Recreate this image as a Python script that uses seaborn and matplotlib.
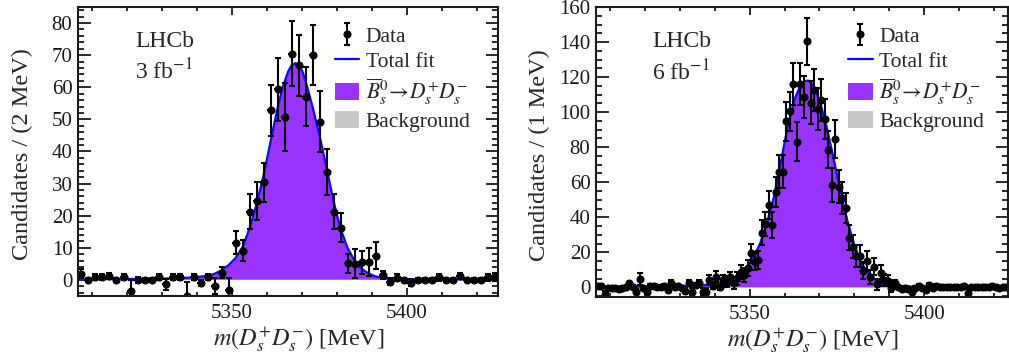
import numpy as np
import matplotlib
matplotlib.use("Agg")
import matplotlib.pyplot as plt
import seaborn as sns
from matplotlib.ticker import MultipleLocator
from matplotlib.patches import Patch
from matplotlib.lines import Line2D

sns.set_theme(style="ticks")
plt.rcParams['font.family'] = ['Liberation Serif', 'DejaVu Serif']
plt.rcParams['mathtext.fontset'] = 'stix'

# ---- 3 fb-1 sample, 2 MeV bins
mass_3fb = np.arange(5307, 5427, 2)
counts_3fb = [2, 0, 1, 1, 1.2, 0, 1, -3.3, 0, 0,
              0, 1, -1.4, 1, 1, -5, 1, -1, 1, -2,
              2.3, -3, 11.6, 9.1, 21.3, 24.6, 30.4, 52.8, 59.4, 50.7,
              70.5, 66.8, 57.1, 70.1, 49.3, 33.5, 21.3, 16.3, 5.2, 5,
              5.5, 5.6, 7.5, 1.6, -0.5, 0.7, 0, -0.8, 0, 0,
              0, 0.8, 0, 0, 1.2, 0, 0, 0, 0.8, 1]
errors_3fb = [1.5, 0.7, 1, 1, 1, 0.7, 1, 3.2, 1, 0.7,
              0.7, 1, 1.7, 1, 1, 4.5, 1, 1, 1, 2.5,
              1.8, 3.7, 3.5, 3.3, 5.5, 5.8, 6, 8, 9.8, 10.6,
              10, 9.6, 9.3, 9.3, 9.5, 7.2, 5.4, 4.5, 3, 4.5,
              3.5, 4.4, 4.2, 1.3, 1, 1, 0.7, 1, 0.7, 0.7,
              0.7, 1, 0.7, 0.7, 1, 0.7, 0.7, 0.7, 1, 1.2]
fit_x_3fb = [5306, 5320, 5330, 5336, 5340, 5343, 5345, 5347, 5349, 5351,
             5353, 5355, 5357, 5359, 5361, 5363, 5364.5, 5366, 5367, 5368,
             5369, 5370, 5371, 5373, 5375, 5377, 5379, 5381, 5383, 5385,
             5387, 5389, 5391, 5393, 5396, 5400, 5426]
fit_y_3fb = [0.2, 0.3, 0.4, 0.6, 0.9, 1.3, 1.9, 3.0, 4.6, 6.8,
             10.2, 16, 23.5, 32.5, 43, 53.5, 60, 64.8, 66.8, 67.5,
             67, 65.3, 62, 54, 45, 35, 24.5, 16, 10, 6,
             3.5, 2.0, 1.1, 0.6, 0.3, 0.2, 0.2]

# ---- 6 fb-1 sample, 1 MeV bins
mass_6fb = np.arange(5306.5, 5424, 1)
counts_6fb = [0.8, 0.8, -3.8, -0.6, -0.6, -0.6, -1.1, -0.6, 0, 2.3,
              0, -2.5, 4.6, -0.6, -2.5, 0.8, 0.8, 0, 0, 0.8,
              -1.5, 2.7, 0, 0.8, -0.6, -1.9, 2.7, -2.5, 1.3, 2.7,
              -2.5, -2.5, 4.2, 0.8, 6.1, 0, 4.2, 3.2, 5.7, 2.3,
              5.1, 8.5, 7, 11, 19.4, 14.7, 15.6, 31.2, 36.2, 47,
              35.6, 54.3, 66.1, 66.1, 94.7, 100.4, 116, 83.2, 116, 108.6,
              140.4, 105.5, 112.8, 101.7, 107, 96, 78.5, 58.5, 84.6, 57.5,
              50.9, 45.1, 28.4, 23.2, 17.9, 17.9, 9.5, 15, 5.7, 11.8,
              1.7, 8.4, 4.2, 3.8, -0.6, 2.3, 0, -1.1, -0.5, -1.1,
              -2.5, -0.5, 0.7, -0.5, -1.5, 1.3, -0.5, 0.7, 0, 0,
              0, 0, 0, 0, 0, 0.5, -3, 0, 0, 0,
              0, 0, 0, 0.5, 0, -0.5, 0, 0]
errors_6fb = [1, 1, 1.5, 1, 1, 1, 1, 1, 1, 1,
              1, 1.5, 3.5, 1, 1.5, 1, 1, 1, 1, 1,
              1, 1.5, 1, 1, 1, 1.5, 1.5, 2, 1, 1.5,
              2, 2, 3, 1.5, 3, 1.5, 3, 3, 3, 3,
              3.5, 4, 4, 4.5, 5.5, 5, 5, 7, 7, 8,
              7.5, 8.5, 9.5, 9.5, 11, 11, 12, 11, 12, 12,
              13.5, 12, 12, 12, 12, 11.5, 10.5, 9.5, 11, 9.5,
              9, 8.5, 7, 6.5, 6, 6, 5, 5.5, 4, 5,
              3, 4.5, 3.5, 3, 2, 2, 1, 1, 1, 1,
              1.5, 1, 1, 1, 1, 1, 1, 1, 1, 1,
              1, 1, 1, 1, 1, 1, 2, 1, 1, 1,
              1, 1, 1, 1, 1, 1, 1, 1]
fit_x_6fb = [5306, 5320, 5330, 5336, 5340, 5343, 5345, 5347, 5349, 5351,
             5353, 5355, 5357, 5359, 5361, 5363, 5364.5, 5366, 5366.8, 5368,
             5370, 5372, 5374, 5376, 5378, 5380, 5382, 5384, 5386, 5388,
             5390, 5393, 5397, 5424]
fit_y_6fb = [0.3, 0.5, 0.8, 1.2, 2, 3.2, 4.8, 7.5, 11, 16.5,
             25, 37, 52, 72, 93, 108, 115, 117.8, 118, 116,
             107, 92, 74, 55, 38, 24, 14, 8, 4.5, 2.5,
             1.4, 0.7, 0.4, 0.3]
bkg_level = 0.25

sig_colour = '#9933ff'
fit_colour = '#0a0aff'
bkg_colour = '#c8c8c8'

fig = plt.figure(figsize=(10.09, 3.58), dpi=100)
ax1 = fig.add_axes([0.0773, 0.1732, 0.4163, 0.8073])
ax2 = fig.add_axes([0.5907, 0.1704, 0.4083, 0.810])


def draw_panel(ax, mass, counts, errors, halfbin, fit_x, fit_y, xlim, ylim,
               ymajor, yminor, ylabel, lumi, ylab_x):
    ax.fill_between(xlim, 0, bkg_level, color=bkg_colour, lw=0)
    ax.fill_between(fit_x, bkg_level, fit_y, color=sig_colour, lw=0)
    sns.lineplot(x=fit_x, y=fit_y, ax=ax, color=fit_colour, lw=1.6)
    ax.errorbar(mass, counts, xerr=halfbin, fmt='none', ecolor='black',
                elinewidth=1.5, capsize=0)
    data = ax.errorbar(mass, counts, yerr=errors, fmt='o', color='black',
                       ecolor='black', ms=4.8, elinewidth=1.5, capsize=2,
                       capthick=1.5)
    ax.set_xlim(xlim)
    ax.set_ylim(ylim)
    ax.xaxis.set_major_locator(MultipleLocator(50))
    ax.xaxis.set_minor_locator(MultipleLocator(10))
    ax.yaxis.set_major_locator(MultipleLocator(ymajor))
    ax.yaxis.set_minor_locator(MultipleLocator(yminor))
    ax.tick_params(which='both', direction='in', top=True, right=True,
                   labelsize=15, width=1.3, color='k', labelcolor='k')
    ax.tick_params(axis='x', which='major', length=6, pad=6)
    ax.tick_params(axis='x', which='minor', length=3)
    ax.tick_params(axis='y', which='major', length=9, pad=4)
    ax.tick_params(axis='y', which='minor', length=4.5)
    for sp in ax.spines.values():
        sp.set_linewidth(1.5)
        sp.set_color('k')
    ax.set_facecolor('white')
    ax.set_xlabel(r'$m(D_s^{+}D_s^{-})$ [MeV]', fontsize=17.5)
    ax.xaxis.set_label_coords(0.525, -0.10)
    ax.set_ylabel(ylabel, fontsize=17.5)
    ax.yaxis.set_label_coords(ylab_x, 0.49)
    ax.text(0.136, 0.88, 'LHCb', transform=ax.transAxes, fontsize=17,
            va='center', ha='left')
    ax.text(0.136, 0.775, lumi, transform=ax.transAxes, fontsize=17,
            va='center', ha='left')
    handles = [data,
               Line2D([], [], color=fit_colour, lw=1.6),
               Patch(color=sig_colour, lw=0),
               Patch(color=bkg_colour, lw=0)]
    labels = ['Data', 'Total fit',
              r'$\overline{B}{}_s^{0}\!\rightarrow\! D_s^{+}D_s^{-}$',
              'Background']
    ax.legend(handles, labels, loc='upper left', bbox_to_anchor=(0.575, 0.985),
              frameon=False, fontsize=15.5, handlelength=1.15,
              handleheight=0.8, handletextpad=0.3, labelspacing=0.2,
              borderpad=0.2)


draw_panel(ax1, mass_3fb, counts_3fb, errors_3fb, 1.0, fit_x_3fb, fit_y_3fb,
           (5306, 5426), (-5, 85), 10, 2, 'Candidates / (2 MeV)',
           r'3 fb$^{-1}$', -0.107)
draw_panel(ax2, mass_6fb, counts_6fb, errors_6fb, 0.5, fit_x_6fb, fit_y_6fb,
           (5306, 5424), (-5.5, 160), 20, 5, 'Candidates / (1 MeV)',
           r'6 fb$^{-1}$', -0.112)

fig.savefig("out.png", dpi=100)
